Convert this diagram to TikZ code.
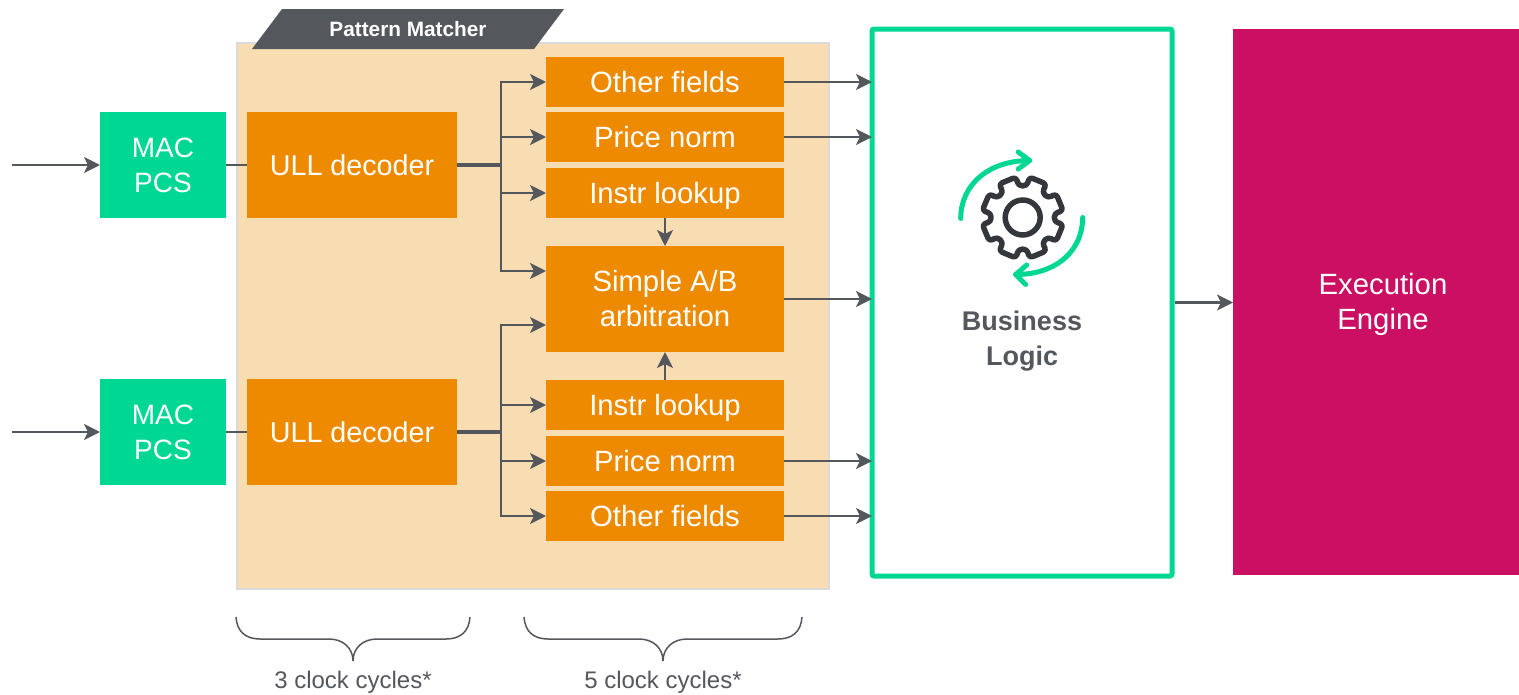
\documentclass[tikz,border=0pt]{standalone}
\usepackage{fontspec}
\setmainfont{Liberation Sans}
\usetikzlibrary{arrows.meta,calc}
\definecolor{grn}{HTML}{00D793}
\definecolor{org}{HTML}{EE8A00}
\definecolor{pale}{HTML}{F8DCB2}
\definecolor{mag}{HTML}{CB0F62}
\definecolor{slate}{HTML}{54575B}
\definecolor{gearc}{HTML}{33363A}
\definecolor{edgec}{HTML}{DADADA}
\tikzset{
  basebox/.style={inner sep=0pt,outer sep=0pt,align=center,text=white,font=\fontsize{29.3}{35}\selectfont},
  macbox/.style={basebox,fill=grn,minimum width=126pt,minimum height=106pt,font=\fontsize{28}{35}\selectfont},
  decoder/.style={basebox,fill=org,minimum width=210pt,minimum height=106pt,text height=20pt,text depth=0pt,font=\fontsize{28.7}{35}\selectfont},
  field/.style={basebox,fill=org,minimum width=238pt,minimum height=50pt,text height=20pt,text depth=0pt},
  arb/.style={basebox,fill=org,minimum width=238pt,minimum height=106pt},
  conn/.style={draw=slate,line width=2.6pt,-{Stealth[length=16pt,width=16pt,inset=4pt]}},
  tobl/.style={conn,shorten >=-2.5pt},
  plainline/.style={draw=slate,line width=2.6pt},
  trunk/.style={draw=slate,line width=3.4pt},
  bracestyle/.style={draw=slate,line width=1.5pt},
  captext/.style={inner sep=0pt,text=slate,font=\fontsize{24}{28}\selectfont},
  turn/.style={draw=grn,line width=5pt,line cap=round,line join=round},
}
\begin{document}
\begin{tikzpicture}[x=1pt,y=-1pt]
\useasboundingbox (0,0) rectangle (1519,694);
% panel
\node[draw=edgec,fill=pale,line width=2pt,inner sep=0pt,minimum width=592pt,minimum height=546pt] (panel) at (532.5,315.5) {};
\fill[slate] (282,9) -- (564,9) -- (534,49) -- (252,49) -- cycle;
\node[inner sep=0pt,text=white,font=\bfseries\fontsize{20.8}{26}\selectfont] (pmtext) at (408,29) {Pattern Matcher};
% boxes
\node[macbox] (mac1) at (163,165) {MAC\\PCS};
\node[macbox] (mac2) at (163,432) {MAC\\PCS};
\node[decoder] (ull1) at (352,165) {ULL decoder};
\node[decoder] (ull2) at (352,432) {ULL decoder};
\node[field] (of1) at (665,82) {Other fields};
\node[field] (pn1) at (665,137) {Price norm};
\node[field] (il1) at (665,193) {Instr lookup};
\node[arb] (ab) at (665,299) {Simple A/B\\arbitration};
\node[field] (il2) at (665,405) {Instr lookup};
\node[field] (pn2) at (665,461) {Price norm};
\node[field] (of2) at (665,516) {Other fields};
\node[draw=grn,fill=white,line width=5pt,rounded corners=2pt,inner sep=0pt,minimum width=300pt,minimum height=547pt] (bl) at (1022,302.5) {};
\node[fill=mag,basebox,minimum width=286pt,minimum height=546pt] (ee) at (1376,302) {};
\node[basebox] (eetext) at (1383,304.5) {Execution\\Engine};
\node[inner sep=0pt,align=center,text=slate,font=\bfseries\fontsize{27}{35}\selectfont] (bltext) at (1022,341) {Business\\Logic};
% free ends and buses
\coordinate (in1) at (12,165);
\coordinate (in2) at (12,432);
\coordinate (bus1) at (501,165);
\coordinate (bus2) at (501,432);
% connectors
\draw[conn] (in1) -- (mac1.west);
\draw[conn] (in2) -- (mac2.west);
\draw[plainline] (mac1.east) -- (ull1.west);
\draw[plainline] (mac2.east) -- (ull2.west);
\draw[trunk] (ull1.east) -- (bus1);
\draw[trunk] (ull2.east) -- (bus2);
\draw[conn] (bus1) |- (of1.west);
\draw[conn] (bus1) |- (pn1.west);
\draw[conn] (bus1) |- (il1.west);
\draw[conn] (bus1) |- ([yshift=28pt]ab.west);
\draw[conn] (bus2) |- ([yshift=-26pt]ab.west);
\draw[conn] (bus2) |- (il2.west);
\draw[conn] (bus2) |- (pn2.west);
\draw[conn] (bus2) |- (of2.west);
\draw[conn] (il1.south) -- (il1.south |- ab.north);
\draw[conn] (il2.north) -- (il2.north |- ab.south);
\draw[tobl] (of1.east) -- (of1.east -| bl.west);
\draw[tobl] (pn1.east) -- (pn1.east -| bl.west);
\draw[tobl] (ab.east) -- (ab.east -| bl.west);
\draw[tobl] (pn2.east) -- (pn2.east -| bl.west);
\draw[tobl] (of2.east) -- (of2.east -| bl.west);
\draw[conn] (bl.east) -- (bl.east -| ee.west);
% gear
\begin{scope}[shift={(1022.7,217.5)}]
  \draw[draw=gearc,line width=5.5pt,rounded corners=3.5pt,line join=round]
    (22.5-15:32) -- (22.5-13:41) -- (22.5+13:41) -- (22.5+15:32)
    \foreach \a in {67.5,112.5,157.5,202.5,247.5,292.5,337.5}{
      -- (\a-15:32) -- (\a-13:41) -- (\a+13:41) -- (\a+15:32)
    } -- cycle;
  \draw[draw=gearc,line width=5.5pt] (0,0) circle (17.5);
  \draw[turn] (-62,1) .. controls (-62,-32) and (-35,-57) .. (7,-57);
  \draw[turn] (-4.5,-65.5) -- (7,-57) -- (-4.5,-48.5);
  \draw[turn] (60,0) .. controls (60,32) and (35,57) .. (-7,57);
  \draw[turn] (4,47.5) -- (-7,57) -- (3,67);
\end{scope}
% braces
\draw[bracestyle] (236,617) .. controls (237,632) and (246,639) .. (260,639) -- (329,639) .. controls (343,639) and (353,648) .. (353,661) .. controls (353,648) and (363,639) .. (377,639) -- (446,639) .. controls (460,639) and (469,632) .. (470,617);
\draw[bracestyle] (524,617) .. controls (525,632) and (534,639) .. (548,639) -- (639,639) .. controls (653,639) and (663,648) .. (663,661) .. controls (663,648) and (673,639) .. (687,639) -- (778,639) .. controls (792,639) and (801,632) .. (802,617);
\node[captext] (c1) at (353,682) {3 clock cycles*};
\node[captext] (c2) at (663,682) {5 clock cycles*};
\end{tikzpicture}
\end{document}
